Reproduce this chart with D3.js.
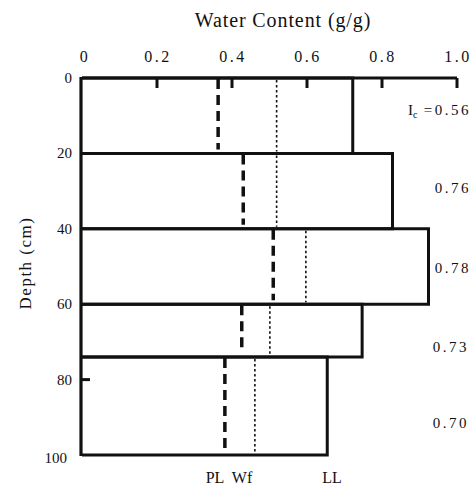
<!DOCTYPE html>
<html><head><meta charset="utf-8">
<script src="https://cdn.jsdelivr.net/npm/d3@7"></script>
<style>body{margin:0;background:#fff}text{font-family:"Liberation Serif","Times New Roman",serif;fill:#111}</style>
</head><body><svg id="c" width="472" height="486"></svg>
<script>
const layerTop = [0, 20, 40, 60, 74];
const layerBottom = [20, 40, 60, 74, 100];
const LL = [0.722, 0.828, 0.924, 0.747, 0.654];
const PL = [0.363, 0.43, 0.51, 0.426, 0.381];
const Wf = [0.519, 0.519, 0.597, 0.501, 0.461];
const Ic = ["0.56", "0.76", "0.78", "0.73", "0.70"];
const xTicks = [0, 0.2, 0.4, 0.6, 0.8, 1.0];
const yTicks = [0, 20, 40, 60, 80, 100];

const svg = d3.select("#c");
const x = d3.scaleLinear().domain([0, 1]).range([82, 457]);
const y = d3.scaleLinear().domain([0, 100]).range([78, 455]);
const ink = "#111";

// title
svg.append("text").attr("x", 283).attr("y", 27).attr("text-anchor", "middle")
  .attr("font-size", 20).attr("letter-spacing", 0.9).text("Water Content (g/g)");

// top tick labels
svg.selectAll(".xl").data(xTicks).enter().append("text")
  .attr("x", d => x(d) + (d === 0 ? 3 : 1)).attr("y", 62).attr("text-anchor", "middle")
  .attr("font-size", 16).attr("letter-spacing", 2.5)
  .text(d => d === 0 ? "0" : d.toFixed(1));

// top axis line and ticks
svg.append("line").attr("x1", x(0)).attr("x2", x(1)).attr("y1", y(0)).attr("y2", y(0))
  .attr("stroke", ink).attr("stroke-width", 3);
svg.selectAll(".xt").data(xTicks.slice(1)).enter().append("line")
  .attr("x1", d => x(d)).attr("x2", d => x(d)).attr("y1", y(0)).attr("y2", y(0) + 10)
  .attr("stroke", ink).attr("stroke-width", 3);

// left axis
svg.append("line").attr("x1", x(0) - 1).attr("x2", x(0) - 1).attr("y1", y(0) - 1).attr("y2", y(100) + 1)
  .attr("stroke", ink).attr("stroke-width", 3.2);
svg.append("line").attr("x1", x(0)).attr("x2", x(0) + 8).attr("y1", y(80)).attr("y2", y(80))
  .attr("stroke", ink).attr("stroke-width", 3);
svg.selectAll(".yl").data(yTicks).enter().append("text")
  .attr("x", d => d === 100 ? 67 : 72).attr("y", d => y(d) + (d === 100 ? 8 : 5)).attr("text-anchor", "end")
  .attr("font-size", 15).text(d => d);

svg.append("text").attr("transform", `translate(31,263) rotate(-90)`)
  .attr("text-anchor", "middle").attr("font-size", 17).attr("letter-spacing", 1.5).text("Depth (cm)");

// layer rectangles (LL)
const idx = d3.range(LL.length);
svg.selectAll(".blk").data(idx).enter().append("path")
  .attr("d", i => `M${x(0)},${y(layerTop[i])}H${x(LL[i])}V${y(layerBottom[i])}H${x(0)}`)
  .attr("fill", "none").attr("stroke", ink).attr("stroke-width", 3);

// PL dashed
svg.selectAll(".pl").data(idx).enter().append("line")
  .attr("x1", i => x(PL[i])).attr("x2", i => x(PL[i]))
  .attr("y1", i => y(layerTop[i]) + 1).attr("y2", i => y(layerBottom[i]) - 4)
  .attr("stroke", ink).attr("stroke-width", 3.5).attr("stroke-dasharray", "10,6");

// Wf dotted
svg.selectAll(".wf").data(idx).enter().append("line")
  .attr("x1", i => x(Wf[i])).attr("x2", i => x(Wf[i]))
  .attr("y1", i => y(layerTop[i]) + 2).attr("y2", i => y(layerBottom[i]) - 2)
  .attr("stroke", ink).attr("stroke-width", 1.6).attr("stroke-dasharray", "2.5,2.5");

// Ic labels
const icY = [115, 193, 273, 352, 428];
svg.selectAll(".ic").data(idx).enter().append("text")
  .attr("x", i => i < 3 ? 471 : 469).attr("y", i => icY[i]).attr("text-anchor", "end")
  .attr("font-size", 15).attr("letter-spacing", 2.5)
  .each(function(i) {
    const t = d3.select(this);
    if (i === 0) {
      t.append("tspan").attr("letter-spacing", 0).text("I");
      t.append("tspan").attr("font-size", 10).attr("dy", 3).attr("letter-spacing", 0).text("c");
      t.append("tspan").attr("dy", -3).text(" =" + Ic[i]);
    } else t.text(Ic[i]);
  });

// bottom labels
svg.append("text").attr("x", 215).attr("y", 483).attr("text-anchor", "middle").attr("font-size", 16).text("PL");
svg.append("text").attr("x", 242).attr("y", 483).attr("text-anchor", "middle").attr("font-size", 16).text("Wf");
svg.append("text").attr("x", 332).attr("y", 483).attr("text-anchor", "middle").attr("font-size", 16).text("LL");
</script>
</body></html>
